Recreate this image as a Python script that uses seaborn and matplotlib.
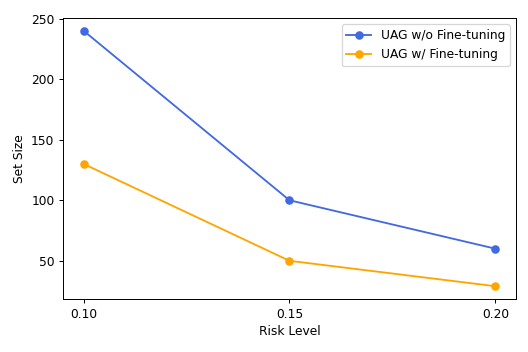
import matplotlib
matplotlib.use("Agg")
import matplotlib.pyplot as plt
import seaborn as sns
import pandas as pd

risk_levels = [0.10, 0.15, 0.20]
series_names = ["UAG w/o Fine-tuning", "UAG w/ Fine-tuning"]
set_size_wo = [240, 100, 60]
set_size_w = [130, 50, 29]
tick_labels = ["0.10", "0.15", "0.20"]
colors = ["royalblue", "orange"]

df = pd.DataFrame({
    "Risk Level": risk_levels * 2,
    "Set Size": set_size_wo + set_size_w,
    "Method": [series_names[0]] * 3 + [series_names[1]] * 3,
})

fig, ax = plt.subplots(figsize=(6, 4), dpi=88)
sns.lineplot(data=df, x="Risk Level", y="Set Size", hue="Method",
             palette=colors, marker="o", markersize=7, markeredgewidth=0,
             linewidth=1.5, ax=ax)
ax.set_xticks(risk_levels)
ax.set_xticklabels(tick_labels)
ax.set_xlabel("Risk Level")
ax.set_ylabel("Set Size")
ax.legend(title=None, loc="upper right")
fig.subplots_adjust(left=63/528, right=516/528, top=1-18/352, bottom=1-299/352)
fig.savefig("out.png", dpi=88)
